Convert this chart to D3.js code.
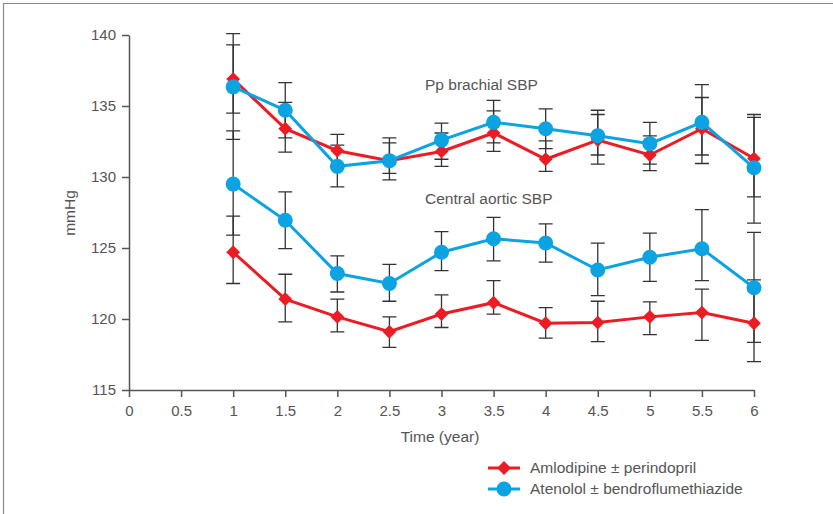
<!DOCTYPE html>
<html>
  <head>
    <script src="https://d3js.org/d3.v7.min.js"></script>
    <style>
      body { margin: 0; background: #fff; }
      svg { font-family: "Liberation Sans", Arial, sans-serif; }
      .axis path, .axis line { stroke: #555; stroke-width: 1.5; }
      .axis text { font-size: 15px; fill: #555; }
      .label { font-size: 15.5px; fill: #555; }
      .errbar { stroke: #333; stroke-width: 1.3; fill: none; }
      .line { stroke-width: 3; fill: none; }
    </style>
  </head>
  <body>
    <div id="chart"></div>
    <script>
// time points (year)
var years = [1, 1.5, 2, 2.5, 3, 3.5, 4, 4.5, 5, 5.5, 6];
var xTicks = [0, 0.5, 1, 1.5, 2, 2.5, 3, 3.5, 4, 4.5, 5, 5.5, 6];
var yTicks = [115, 120, 125, 130, 135, 140];

// Amlodipine, brachial SBP
var amloBrachial   = [136.9, 133.4, 131.85, 131.15, 131.8, 133.1, 131.25, 132.6, 131.55, 133.4, 131.3];
var amloBrachialHi = [139.3, 135.25, 133.0, 132.75, 133.1, 134.65, 132.55, 134.4, 132.9, 135.6, 134.2];
var amloBrachialLo = [134.5, 131.75, 130.7, 129.8, 130.75, 131.8, 130.4, 130.9, 130.45, 131.55, 128.6];
// Atenolol, brachial SBP
var atenBrachial   = [136.35, 134.7, 130.75, 131.15, 132.6, 133.85, 133.4, 132.9, 132.35, 133.85, 130.65];
var atenBrachialHi = [140.1, 136.65, 132.25, 132.4, 133.8, 135.4, 134.8, 134.7, 133.85, 136.5, 134.4];
var atenBrachialLo = [132.65, 132.75, 129.3, 130.25, 131.25, 132.4, 132.0, 131.55, 130.9, 130.95, 126.75];
// Amlodipine, central aortic SBP
var amloCentral   = [124.7, 121.4, 120.15, 119.1, 120.35, 121.15, 119.7, 119.75, 120.15, 120.45, 119.7];
var amloCentralHi = [127.25, 123.15, 121.4, 120.15, 121.7, 122.7, 120.8, 121.25, 121.2, 122.1, 122.75];
var amloCentralLo = [122.5, 119.8, 119.1, 118.0, 119.4, 120.35, 118.65, 118.4, 118.9, 118.5, 117.0];
// Atenolol, central aortic SBP
var atenCentral   = [129.5, 126.95, 123.2, 122.5, 124.7, 125.65, 125.35, 123.45, 124.35, 124.95, 122.2];
var atenCentralHi = [133.25, 128.95, 124.45, 123.85, 126.15, 127.15, 126.7, 125.35, 126.05, 127.7, 126.1];
var atenCentralLo = [125.9, 124.95, 121.9, 121.25, 123.4, 124.1, 124.0, 121.65, 122.65, 122.7, 118.35];

var red = "#ec1c24";
var blue = "#0ba3e2";

var series = [
  {name: "Amlodipine", color: red, shape: "diamond", v: amloBrachial, hi: amloBrachialHi, lo: amloBrachialLo},
  {name: "Amlodipine", color: red, shape: "diamond", v: amloCentral, hi: amloCentralHi, lo: amloCentralLo},
  {name: "Atenolol", color: blue, shape: "circle", v: atenBrachial, hi: atenBrachialHi, lo: atenBrachialLo},
  {name: "Atenolol", color: blue, shape: "circle", v: atenCentral, hi: atenCentralHi, lo: atenCentralLo}
];

var width = 833, height = 514;

var svg = d3.select("#chart").append("svg")
  .attr("width", width)
  .attr("height", height);

// frame
svg.append("path")
  .attr("d", "M3.5,514 V3.5 H833")
  .attr("fill", "none")
  .attr("stroke", "#8a8a8a")
  .attr("stroke-width", 1.2);

var xScale = d3.scaleLinear().domain([0, 6]).range([129, 754]);
var yScale = d3.scaleLinear().domain([115, 140]).range([390, 35]);

/* Axes */
var xAxis = d3.axisBottom(xScale).tickValues(xTicks).tickSize(7).tickSizeOuter(0).tickPadding(8)
  .tickFormat(d3.format("~g"));
var yAxis = d3.axisLeft(yScale).tickValues(yTicks).tickSize(7).tickSizeOuter(0).tickPadding(6);

svg.append("g")
  .attr("class", "x axis")
  .attr("transform", "translate(0,390)")
  .call(xAxis);

svg.append("g")
  .attr("class", "y axis")
  .attr("transform", "translate(129,0)")
  .call(yAxis);

svg.append("text")
  .attr("class", "label")
  .attr("text-anchor", "middle")
  .attr("transform", "translate(75,213) rotate(-90)")
  .text("mmHg");

svg.append("text")
  .attr("class", "label")
  .attr("text-anchor", "middle")
  .attr("x", 440)
  .attr("y", 442)
  .text("Time (year)");

svg.append("text")
  .attr("class", "label")
  .attr("x", 425)
  .attr("y", 90)
  .text("Pp brachial SBP");

svg.append("text")
  .attr("class", "label")
  .attr("x", 425)
  .attr("y", 204)
  .text("Central aortic SBP");

/* Error bars */
var capW = 7;
var bars = svg.append("g").attr("class", "errbars");
series.forEach(function(s) {
  years.forEach(function(t, i) {
    var x = xScale(t), y1 = yScale(s.hi[i]), y2 = yScale(s.lo[i]);
    bars.append("path")
      .attr("class", "errbar")
      .attr("d", `M${x},${y1}V${y2}M${x - capW},${y1}H${x + capW}M${x - capW},${y2}H${x + capW}`);
  });
});

/* Lines and markers */
var line = d3.line()
  .x(d => xScale(d[0]))
  .y(d => yScale(d[1]));

// square turned 45 degrees, as in the original
var diamond = d3.symbol().type(d3.symbolSquare).size(95);

series.forEach(function(s) {
  var pts = years.map((t, i) => [t, s.v[i]]);
  svg.append("path")
    .attr("class", "line")
    .attr("d", line(pts))
    .style("stroke", s.color);
  var g = svg.append("g").style("fill", s.color);
  if (s.shape === "circle") {
    g.selectAll("circle").data(pts).enter()
      .append("circle")
      .attr("cx", d => xScale(d[0]))
      .attr("cy", d => yScale(d[1]))
      .attr("r", 7.5);
  } else {
    g.selectAll("path").data(pts).enter()
      .append("path")
      .attr("d", diamond)
      .attr("transform", d => `translate(${xScale(d[0])},${yScale(d[1])}) rotate(45)`);
  }
});

/* Legend */
var legend = svg.append("g").attr("class", "legend");
var legendItems = [
  {label: "Amlodipine \u00b1 perindopril", color: red, shape: "diamond"},
  {label: "Atenolol \u00b1 bendroflumethiazide", color: blue, shape: "circle"}
];
legendItems.forEach(function(d, i) {
  var y = 468 + i * 21;
  legend.append("line")
    .attr("x1", 488).attr("x2", 520)
    .attr("y1", y).attr("y2", y)
    .attr("stroke", d.color)
    .attr("stroke-width", 3);
  if (d.shape === "circle") {
    legend.append("circle").attr("cx", 504).attr("cy", y).attr("r", 7.5).attr("fill", d.color);
  } else {
    legend.append("path").attr("d", diamond).attr("transform", `translate(504,${y}) rotate(45)`).attr("fill", d.color);
  }
  legend.append("text")
    .attr("class", "label")
    .attr("x", 530)
    .attr("y", y + 5)
    .text(d.label);
});
    </script>
  </body>
</html>
